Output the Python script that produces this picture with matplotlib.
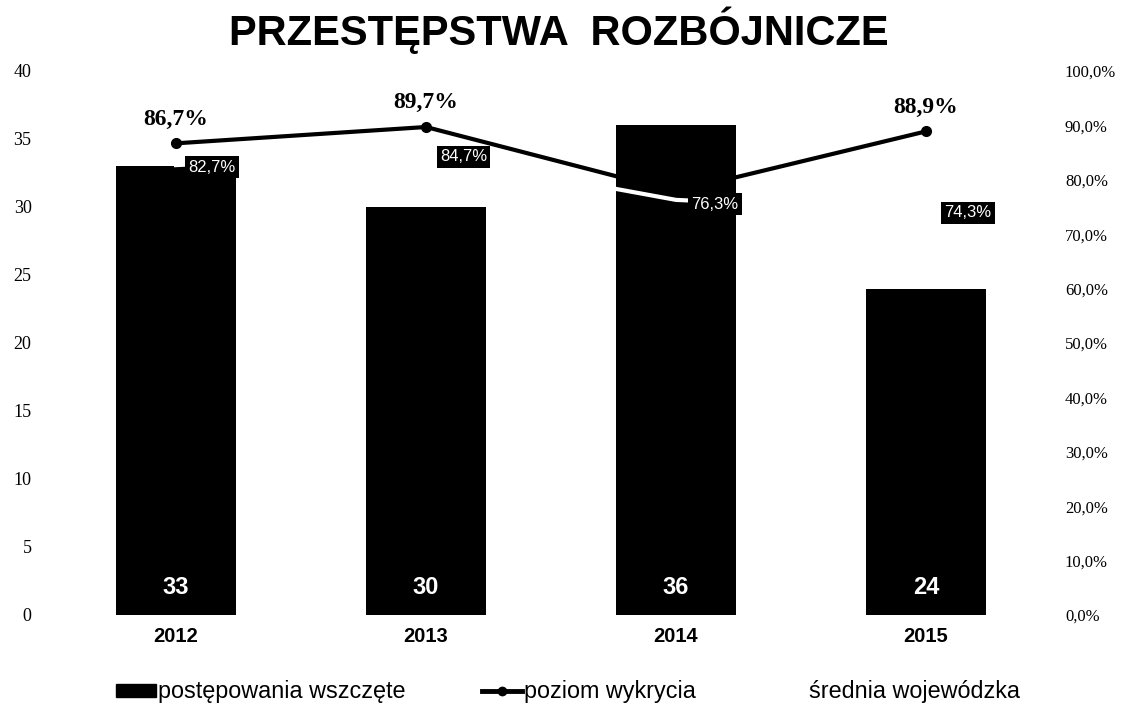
import matplotlib.pyplot as plt
from matplotlib.patches import Patch
from matplotlib.lines import Line2D

# data
years = ["2012", "2013", "2014", "2015"]
cases = [33, 30, 36, 24]                  # postępowania wszczęte
detection = [86.7, 89.7, 77.8, 88.9]      # poziom wykrycia (%)
regional_avg = [82.7, 84.7, 76.3, 74.3]   # średnia wojewódzka (%)
left_ticks = [0, 5, 10, 15, 20, 25, 30, 35, 40]
right_ticks = [0, 10, 20, 30, 40, 50, 60, 70, 80, 90, 100]

fig = plt.figure(figsize=(11.39, 7.09), dpi=100)
ax = fig.add_axes([0.0448, 0.1326, 0.878, 0.7673])
ax2 = ax.twinx()

x = list(range(len(years)))
ax.bar(x, cases, width=0.48, color="black", zorder=2)
for xi, v in zip(x, cases):
    ax.text(xi, 2.0, str(v), ha="center", va="center", color="white",
            fontsize=17, fontweight="bold", family="Liberation Sans")

ax.set_xlim(-0.5, 3.5)
ax.set_ylim(0, 40)
ax.set_xticks(x)
ax.set_xticklabels(years, fontsize=14.5, fontweight="bold", family="Liberation Sans")
ax.set_yticks(left_ticks)
ax.set_yticklabels([str(t) for t in left_ticks], fontsize=13, family="Liberation Serif")
ax.tick_params(axis="x", length=0, pad=9)
ax.tick_params(axis="y", length=0, pad=14)

ax2.set_ylim(0, 100)
ax2.set_yticks(right_ticks)
ax2.set_yticklabels([f"{t},0%" for t in right_ticks], fontsize=12, family="Liberation Serif")
ax2.tick_params(length=0, pad=10)

for a in (ax, ax2):
    for s in a.spines.values():
        s.set_visible(False)

ax2.plot(x, detection, color="black", lw=3, marker="o", ms=7, zorder=3)
ax2.plot(x, regional_avg, color="white", lw=3, zorder=4)

# detection labels above the points (2014 label hidden on the bar)
for xi, v in zip(x, detection):
    if xi == 2:
        continue
    ax2.annotate(f"{v:.1f}%".replace(".", ","), (xi, v), xytext=(0, 17.5),
                 textcoords="offset points", ha="center", va="center",
                 fontsize=17, fontweight="bold", family="Liberation Serif")

# regional average labels in black boxes
avg_offsets = [(9, -1.5), (10, -2), (11, -3), (13, -1.5)]
for xi, v, off in zip(x, regional_avg, avg_offsets):
    ax2.annotate(f"{v:.1f}%".replace(".", ","), (xi, v), xytext=off,
                 textcoords="offset points", ha="left", va="center",
                 fontsize=12, color="white", family="Liberation Sans", zorder=5,
                 bbox=dict(boxstyle="square,pad=0.2", fc="black", ec="none"))

fig.text(0.491, 0.957, "PRZESTĘPSTWA  ROZBÓJNICZE", ha="center", va="center",
         fontsize=30, fontweight="bold", family="Liberation Sans")

handles = [
    Patch(facecolor="black", edgecolor="black"),
    Line2D([], [], color="black", lw=3.5, marker="o", ms=6),
    Line2D([], [], color="white", lw=3),
]
labels = ["postępowania wszczęte", "poziom wykrycia", "średnia wojewódzka"]
legend_x = [0.1018, 0.4232, 0.673]
for h, lab, lx in zip(handles, labels, legend_x):
    fig.legend([h], [lab], loc="center left", bbox_to_anchor=(lx, 0.024),
               frameon=False, borderpad=0, borderaxespad=0,
               handlelength=1.7, handleheight=0.5, handletextpad=0.1,
               prop={"family": "Liberation Sans", "size": 16.8})

fig.savefig("out.png", dpi=100)
